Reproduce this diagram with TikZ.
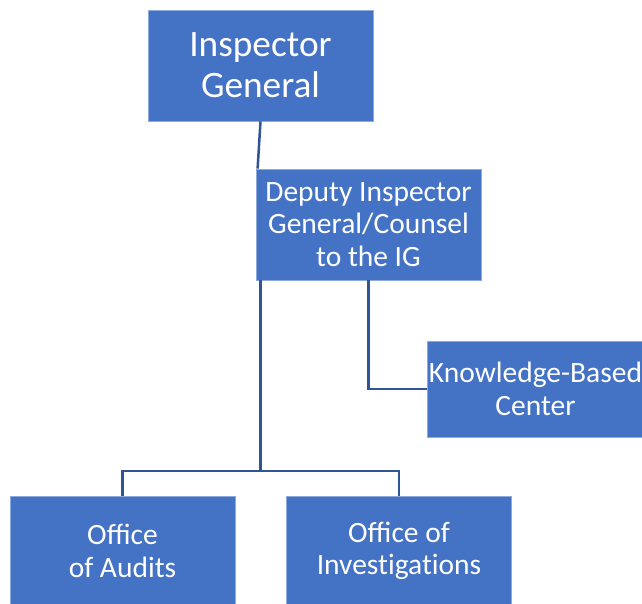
\documentclass[tikz,border=0pt]{standalone}
\usepackage{fontspec}
\setmainfont{Carlito}
\definecolor{boxblue}{HTML}{4472C4}
\definecolor{boxedge}{HTML}{8EA9DB}
\definecolor{linkblue}{HTML}{2F5597}
\begin{document}
\begin{tikzpicture}[x=1pt,y=-1pt,
  box/.style={fill=boxblue, draw=boxedge, line width=0.8pt, text=white,
    align=center, inner sep=0pt, minimum width=225pt},
  bigtext/.style={font=\fontsize{37.3}{41}\selectfont},
  smalltext/.style={font=\fontsize{29.5}{32.5}\selectfont},
  link/.style={draw=linkblue, line width=2.5pt, line join=miter}]
\useasboundingbox (0,0) rectangle (642,603);
\clip (0,0) rectangle (642,603);

% boxes
\node[box, bigtext, minimum height=111pt] (ig) at (260.5,65.5) {Inspector\\General};
\node[box, smalltext, minimum height=111pt] (dep) at (368.5,224.5) {Deputy Inspector\\General/Counsel\\to the IG};
\node[box, smalltext, minimum height=96pt, minimum width=217pt] (kbc) at (535.5,389) {Knowledge-Based\\Center};
\node[box, smalltext, minimum height=110pt] (aud) at (122.5,551) {Office\\of Audits};
\node[box, smalltext, minimum height=110pt] (inv) at (399,551) {Office of\\{\addfontfeature{RawFeature=-liga}Investigations}};

% connectors
\coordinate (split) at (260.5,471);
\draw[link] (ig.south) -- ([xshift=2pt]dep.north west);
\draw[link] (split |- dep.south) -- (split);
\draw[link] (aud.north) |- (split) -| (inv.north);
\draw[link] (dep.south) |- (kbc.west);
\end{tikzpicture}
\end{document}
